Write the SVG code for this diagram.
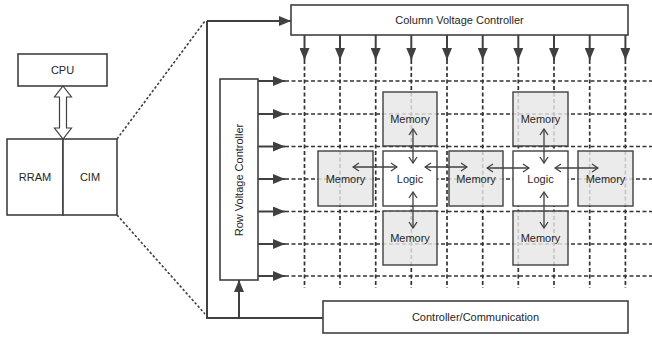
<svg xmlns="http://www.w3.org/2000/svg" width="652" height="339" viewBox="0 0 652 339">
  <style>
    .box { fill: #ffffff; stroke: #404040; stroke-width: 1.6; }
    .mem { fill: #e6e6e6; fill-opacity: 0.82; stroke: #404040; stroke-width: 1.4; }
    .logic { fill: #ffffff; stroke: #404040; stroke-width: 1.4; }
    .lbl { font-family: "Liberation Sans", Arial, sans-serif; font-size: 11px; fill: #262626; text-anchor: middle; dominant-baseline: central; }
    .wire { fill: none; stroke: #404040; stroke-width: 2; }
    .feed { fill: none; stroke: #404040; stroke-width: 2; marker-end: url(#solidHead); }
    .grid { fill: none; stroke: #333333; stroke-width: 1.7; stroke-dasharray: 4 2.5; }
    .zoom { fill: none; stroke: #404040; stroke-width: 1.6; stroke-dasharray: 2.5 2; }
    .link { fill: none; stroke: #404040; stroke-width: 1.3; marker-start: url(#openHead); marker-end: url(#openHead); }
  </style>
  <defs>
    <marker id="solidHead" markerUnits="userSpaceOnUse" markerWidth="12" markerHeight="10" refX="12" refY="5" orient="auto">
      <path d="M0,0 L12,5 L0,10 Z" fill="#404040"/>
    </marker>
    <marker id="openHead" markerUnits="userSpaceOnUse" markerWidth="8" markerHeight="10" refX="7" refY="5" orient="auto-start-reverse">
      <path d="M1,1 L7,5 L1,9" fill="none" stroke="#404040" stroke-width="1.3"/>
    </marker>
  </defs>

  <!-- system overview -->
  <g id="cpu">
    <rect class="box" x="18" y="54" width="89" height="32"/>
    <text class="lbl" x="62.5" y="70">CPU</text>
  </g>
  <g id="rram">
    <rect class="box" x="7" y="139" width="56" height="76"/>
    <text class="lbl" x="35" y="177">RRAM</text>
  </g>
  <g id="cim">
    <rect class="box" x="63" y="139" width="54" height="76"/>
    <text class="lbl" x="90" y="177">CIM</text>
  </g>

  <!-- crossbar grid -->
  <g id="grid">
    <path class="grid" d="M285,81 H652 M285,114 H652 M285,146.5 H652 M285,179 H652 M285,211.5 H652 M285,244 H652 M285,276 H652"/>
    <path class="grid" d="M304.5,60 V288 M340,60 V288 M375.7,60 V288 M411.3,60 V288 M447,60 V288 M482.7,60 V288 M518.3,60 V288 M554,60 V288 M589.7,60 V288 M625.4,60 V288"/>
  </g>

  <!-- controllers -->
  <g id="column-voltage-controller">
    <rect class="box" x="291" y="5" width="337" height="30"/>
    <text class="lbl" x="459.5" y="20">Column Voltage Controller</text>
  </g>
  <g id="row-voltage-controller">
    <rect class="box" x="220" y="79" width="38" height="201"/>
    <text class="lbl" transform="translate(239,180) rotate(-90)">Row Voltage Controller</text>
  </g>
  <g id="controller-communication">
    <rect class="box" x="323" y="301" width="305" height="32"/>
    <text class="lbl" x="475.5" y="317">Controller/Communication</text>
  </g>

  <!-- compute tiles -->
  <g id="memory-top-left"><rect class="mem" x="383" y="92" width="54" height="54"/><text class="lbl" x="410" y="119">Memory</text></g>
  <g id="memory-mid-left"><rect class="mem" x="318" y="151" width="55" height="55"/><text class="lbl" x="345.5" y="178.5">Memory</text></g>
  <g id="logic-left"><rect class="logic" x="383" y="151" width="54" height="55"/><text class="lbl" x="410" y="178.5">Logic</text></g>
  <g id="memory-bottom-left"><rect class="mem" x="383" y="211" width="54" height="54"/><text class="lbl" x="410" y="238">Memory</text></g>
  <g id="memory-mid-center"><rect class="mem" x="449" y="151" width="54" height="55"/><text class="lbl" x="476" y="178.5">Memory</text></g>
  <g id="memory-top-right"><rect class="mem" x="513" y="92" width="55" height="54"/><text class="lbl" x="540.5" y="119">Memory</text></g>
  <g id="logic-right"><rect class="logic" x="513" y="151" width="55" height="55"/><text class="lbl" x="540.5" y="178.5">Logic</text></g>
  <g id="memory-bottom-right"><rect class="mem" x="513" y="211" width="55" height="54"/><text class="lbl" x="540.5" y="238">Memory</text></g>
  <g id="memory-mid-right"><rect class="mem" x="578" y="151" width="55" height="55"/><text class="lbl" x="605.5" y="178.5">Memory</text></g>

  <!-- connectors -->
  <g id="connectors">
    <!-- CPU <-> RRAM/CIM bus -->
    <path d="M63,86 L71.5,97 L66.5,97 L66.5,128 L71.5,128 L63,139 L54.5,128 L59.5,128 L59.5,97 L54.5,97 Z" fill="#ffffff" stroke="#404040" stroke-width="1.2"/>
    <!-- zoom-out guides -->
    <path class="zoom" d="M117,139 L205,21"/>
    <path class="zoom" d="M117,215 L205,314"/>
    <!-- controller feed lines -->
    <path class="wire" d="M323,318 H207 V21"/>
    <path class="feed" d="M207,21 H291"/>
    <path class="feed" d="M239,318 V280"/>
    <!-- column drivers -->
    <path class="feed" d="M304.5,35 V60"/>
    <path class="feed" d="M340,35 V60"/>
    <path class="feed" d="M375.7,35 V60"/>
    <path class="feed" d="M411.3,35 V60"/>
    <path class="feed" d="M447,35 V60"/>
    <path class="feed" d="M482.7,35 V60"/>
    <path class="feed" d="M518.3,35 V60"/>
    <path class="feed" d="M554,35 V60"/>
    <path class="feed" d="M589.7,35 V60"/>
    <path class="feed" d="M625.4,35 V60"/>
    <!-- row drivers -->
    <path class="feed" d="M258,81 H285"/>
    <path class="feed" d="M258,114 H285"/>
    <path class="feed" d="M258,146.5 H285"/>
    <path class="feed" d="M258,179 H285"/>
    <path class="feed" d="M258,211.5 H285"/>
    <path class="feed" d="M258,244 H285"/>
    <path class="feed" d="M258,276 H285"/>
    <!-- logic <-> memory links -->
    <path class="link" d="M413,129 V163"/>
    <path class="link" d="M413,192 V228"/>
    <path class="link" d="M544,129 V163"/>
    <path class="link" d="M544,192 V228"/>
    <path class="link" d="M353,167 H397"/>
    <path class="link" d="M425,167 H467"/>
    <path class="link" d="M487,168 H529"/>
    <path class="link" d="M555,168 H598"/>
  </g>
</svg>
